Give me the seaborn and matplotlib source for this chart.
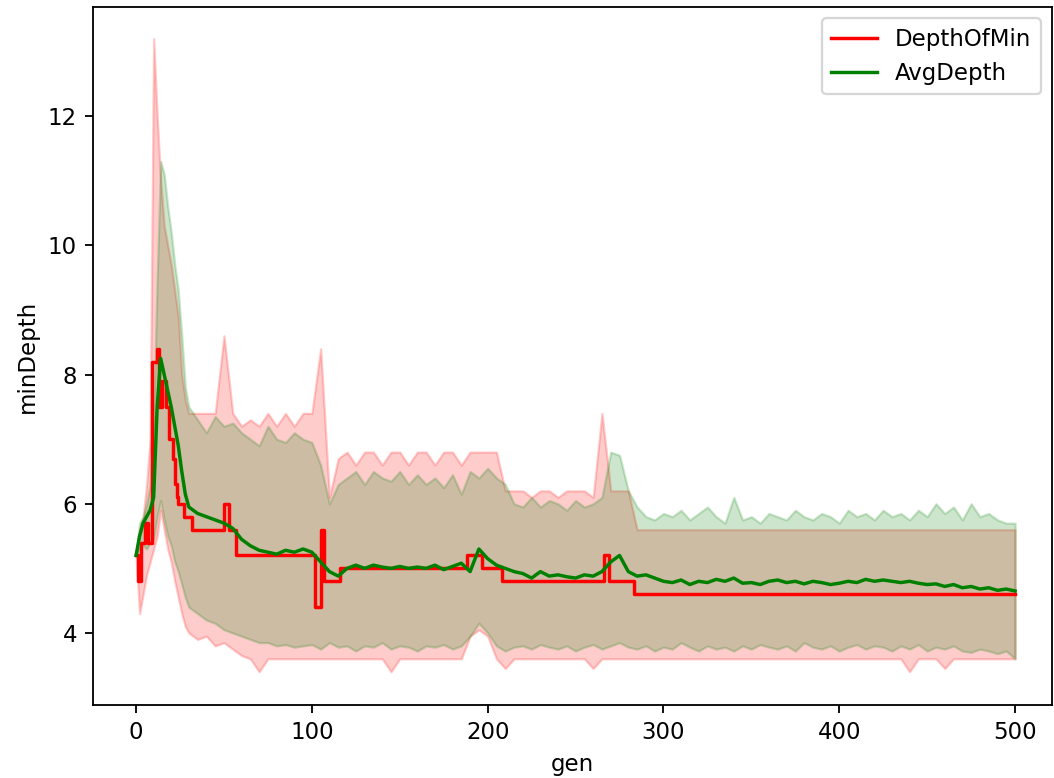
import numpy as np
import pandas as pd
import matplotlib
matplotlib.use("Agg")
import matplotlib.pyplot as plt
import seaborn as sns

# generation axis: every 2 gens through the early peak, then every 5
gens = list(range(0, 31, 2)) + list(range(35, 501, 5))

# AvgDepth: mean and band limits
avg_mean = [5.2, 5.5, 5.7, 5.8, 5.9, 6.1, 7.5, 8.25, 8.0, 7.75, 7.5, 7.2, 6.9, 6.5, 6.15, 5.95,
            5.85, 5.8, 5.75, 5.7, 5.62, 5.45, 5.35, 5.28, 5.25, 5.22,
            5.28, 5.25, 5.3, 5.25, 5.1, 4.95, 4.88, 5.0, 5.05, 5.0,
            5.05, 5.02, 5.0, 5.03, 5.0, 5.02, 5.0, 5.05, 4.98, 5.03,
            5.08, 4.95, 5.3, 5.15, 5.05, 5.0, 4.95, 4.92, 4.85, 4.95,
            4.88, 4.9, 4.87, 4.85, 4.9, 4.88, 4.95, 5.1, 5.2, 4.95,
            4.88, 4.9, 4.85, 4.8, 4.78, 4.82, 4.75, 4.8, 4.78, 4.83,
            4.8, 4.85, 4.77, 4.78, 4.75, 4.8, 4.82, 4.78, 4.8, 4.76,
            4.8, 4.78, 4.75, 4.77, 4.8, 4.78, 4.83, 4.8, 4.82, 4.8,
            4.78, 4.8, 4.77, 4.75, 4.76, 4.72, 4.75, 4.7, 4.72, 4.68,
            4.7, 4.66, 4.68, 4.65]
avg_hi = [5.2, 5.7, 5.8, 6.0, 6.3, 7.3, 9.5, 11.3, 11.1, 10.6, 10.2, 9.7, 9.3, 8.6, 7.8, 7.5,
          7.3, 7.1, 7.35, 7.2, 7.25, 7.1, 7.0, 6.9, 7.2, 7.0,
          6.95, 7.1, 7.0, 6.95, 6.6, 6.0, 6.3, 6.4, 6.5, 6.3,
          6.5, 6.4, 6.35, 6.5, 6.3, 6.45, 6.3, 6.4, 6.25, 6.45,
          6.15, 6.5, 6.4, 6.55, 6.4, 6.3, 6.0, 5.95, 6.1, 5.95,
          6.05, 6.0, 5.9, 6.05, 5.95, 6.0, 6.1, 6.8, 6.75, 6.2,
          5.95, 5.8, 5.75, 5.85, 5.8, 5.9, 5.75, 5.85, 5.95, 5.8,
          5.7, 6.1, 5.75, 5.8, 5.7, 5.85, 5.8, 5.75, 5.9, 5.8,
          5.75, 5.85, 5.8, 5.7, 5.9, 5.8, 5.85, 5.75, 5.9, 5.8,
          5.85, 5.75, 5.9, 5.8, 6.0, 5.85, 5.95, 5.75, 6.0, 5.8,
          5.85, 5.75, 5.7, 5.7]
avg_lo = [5.2, 5.3, 5.35, 5.3, 5.4, 5.45, 5.8, 6.05, 5.75, 5.5, 5.35, 5.1, 4.95, 4.75, 4.55, 4.4,
          4.3, 4.2, 4.15, 4.05, 4.0, 3.95, 3.9, 3.85, 3.85, 3.8,
          3.82, 3.78, 3.8, 3.82, 3.75, 3.85, 3.78, 3.8, 3.72, 3.8,
          3.78, 3.85, 3.75, 3.8, 3.78, 3.72, 3.8, 3.78, 3.82, 3.75,
          3.8, 3.95, 4.15, 4.0, 3.8, 3.72, 3.78, 3.8, 3.75, 3.82,
          3.78, 3.75, 3.8, 3.72, 3.78, 3.82, 3.75, 3.8, 3.85, 3.78,
          3.75, 3.8, 3.72, 3.78, 3.75, 3.85, 3.78, 3.72, 3.8, 3.75,
          3.78, 3.72, 3.8, 3.75, 3.82, 3.78, 3.75, 3.8, 3.72, 3.85,
          3.78, 3.75, 3.8, 3.72, 3.78, 3.82, 3.75, 3.8, 3.78, 3.72,
          3.8, 3.75, 3.82, 3.72, 3.78, 3.75, 3.8, 3.72, 3.7, 3.75,
          3.72, 3.68, 3.72, 3.6]

# DepthOfMin band limits
min_hi = [5.2, 5.6, 5.8, 6.3, 7.0, 13.2, 12.0, 11.0, 10.3, 10.0, 9.7, 9.3, 8.9, 8.0, 7.6, 7.4,
          7.4, 7.4, 7.4, 8.6, 7.4, 7.2, 7.3, 7.2, 7.4, 7.2,
          7.4, 7.2, 7.4, 7.4, 8.4, 6.1, 6.7, 6.8, 6.6, 6.8,
          6.8, 6.6, 6.8, 6.8, 6.6, 6.8, 6.8, 6.6, 6.8, 6.8,
          6.6, 6.8, 6.8, 6.8, 6.8, 6.2, 6.2, 6.2, 6.1, 6.2,
          6.2, 6.1, 6.2, 6.2, 6.2, 6.1, 7.4, 6.2, 6.2, 6.2,
          5.6, 5.6, 5.6, 5.6, 5.6, 5.6, 5.6, 5.6, 5.6, 5.6,
          5.6, 5.6, 5.6, 5.6, 5.6, 5.6, 5.6, 5.6, 5.6, 5.6,
          5.6, 5.6, 5.6, 5.6, 5.6, 5.6, 5.6, 5.6, 5.6, 5.6,
          5.6, 5.6, 5.6, 5.6, 5.6, 5.6, 5.6, 5.6, 5.6, 5.6,
          5.6, 5.6, 5.6, 5.6]
min_lo = [5.2, 4.3, 4.6, 4.9, 5.1, 5.3, 5.5, 5.9, 5.6, 5.3, 5.1, 4.8, 4.55, 4.3, 4.1, 4.0,
          3.9, 3.95, 3.8, 3.85, 3.75, 3.65, 3.6, 3.4, 3.6, 3.6,
          3.6, 3.6, 3.6, 3.6, 3.6, 3.6, 3.6, 3.6, 3.6, 3.6,
          3.6, 3.6, 3.4, 3.6, 3.6, 3.6, 3.6, 3.6, 3.6, 3.6,
          3.6, 3.95, 4.05, 3.95, 3.6, 3.45, 3.6, 3.6, 3.6, 3.6,
          3.6, 3.6, 3.6, 3.6, 3.6, 3.45, 3.6, 3.6, 3.6, 3.6,
          3.6, 3.6, 3.6, 3.6, 3.6, 3.6, 3.6, 3.6, 3.6, 3.6,
          3.6, 3.6, 3.6, 3.6, 3.6, 3.6, 3.6, 3.6, 3.6, 3.6,
          3.6, 3.6, 3.6, 3.6, 3.6, 3.6, 3.6, 3.6, 3.6, 3.6,
          3.6, 3.4, 3.6, 3.6, 3.6, 3.45, 3.6, 3.6, 3.6, 3.6,
          3.6, 3.6, 3.6, 3.6]

# DepthOfMin mean: piecewise-constant, value holds from each gen until the next
min_gen = [0, 1, 3, 5, 7, 9, 12, 13, 15, 17,
           19, 21, 22, 23, 24, 27, 32, 50, 53, 57,
           102, 105, 107, 116, 188, 197, 208, 266, 269, 283,
           500]
min_mean = [5.2, 4.8, 5.4, 5.7, 5.4, 8.2, 8.4, 7.5, 7.9, 7.5,
            7.0, 6.7, 6.3, 6.1, 6.0, 5.8, 5.6, 6.0, 5.6, 5.2,
            4.4, 5.6, 4.8, 5.0, 5.2, 5.0, 4.8, 5.2, 4.8, 4.6,
            4.6]

band = pd.DataFrame({"gen": gens, "avg": avg_mean, "avg_lo": avg_lo, "avg_hi": avg_hi,
                     "min_lo": min_lo, "min_hi": min_hi})
steps = pd.DataFrame({"gen": min_gen, "minDepth": min_mean})

DPI = 164.5
fig = plt.figure(figsize=(1054 / DPI, 778 / DPI), dpi=DPI)
ax = fig.add_axes([93 / 1054, 1 - 705 / 778, (1052 - 93) / 1054, (705 - 7) / 778])

ax.fill_between(band["gen"], band["min_lo"], band["min_hi"], color="red", alpha=0.2, zorder=1)
sns.lineplot(data=steps, x="gen", y="minDepth", color="red", drawstyle="steps-post",
             label="DepthOfMin", ax=ax, zorder=3)
ax.fill_between(band["gen"], band["avg_lo"], band["avg_hi"], color="green", alpha=0.2, zorder=1)
sns.lineplot(data=band, x="gen", y="avg", color="green", label="AvgDepth", ax=ax, zorder=4)

ax.set_xlim(-24.5, 521)
ax.set_ylim(2.885, 13.69)
ax.set_yticks([4, 6, 8, 10, 12])
ax.set_xticks([0, 100, 200, 300, 400, 500])
ax.set_xlabel("gen")
ax.set_ylabel("minDepth")
ax.legend(loc="upper right")

fig.savefig("out.png", dpi=DPI)
